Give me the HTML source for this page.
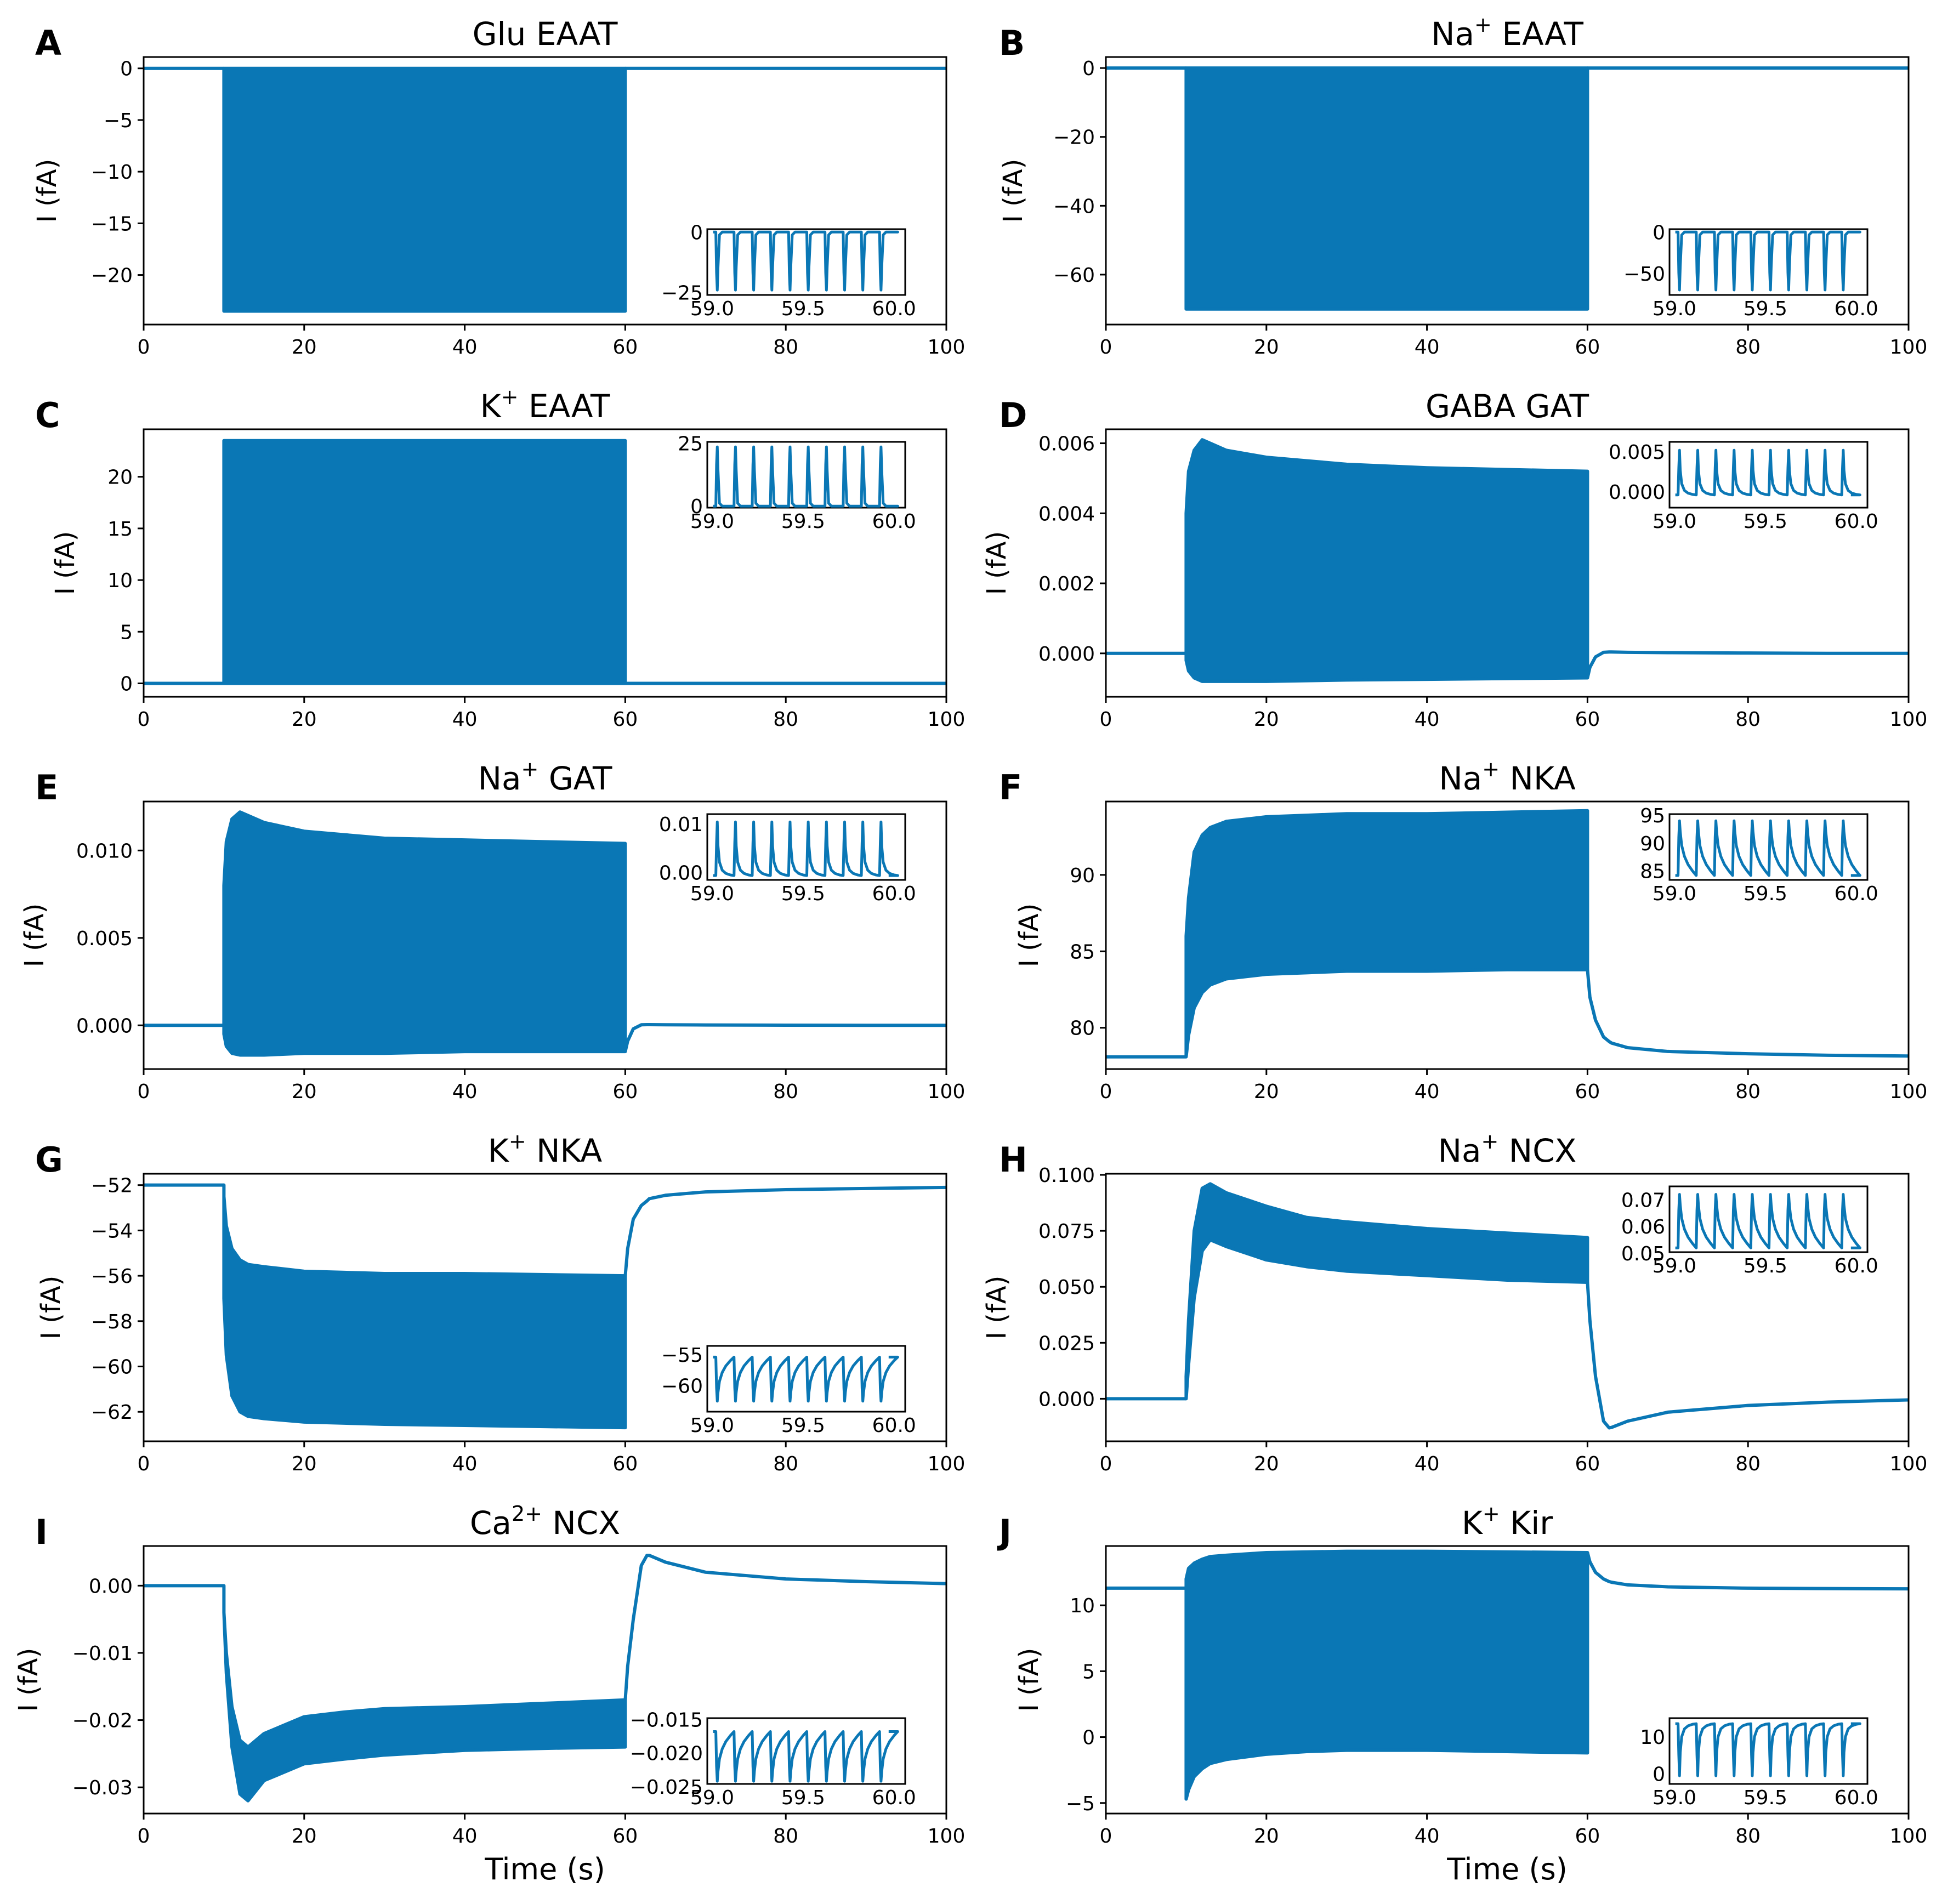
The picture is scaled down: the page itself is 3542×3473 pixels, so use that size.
<!DOCTYPE html>
<html><head><meta charset="utf-8"><style>
html,body{margin:0;padding:0;background:#fff;}
svg{display:block;font-family:"DejaVu Sans","Liberation Sans",sans-serif;}
</style></head><body>
<svg id="fig" width="3542" height="3473" viewBox="0 0 3542 3473" xmlns="http://www.w3.org/2000/svg"></svg>
<script>
// ---- data ----
const panelIds = ["A","B","C","D","E","F","G","H","I","J"];
const xTicks = [0,20,40,60,80,100];
const insetXTicks = ["59.0","59.5","60.0"];
// baseline before stimulus (t 0..10)
const preA=0, preB=0, preC=0, preD=0, preE=0, preF=78.1, preG=-52, preH=0, preI=0, preJ=11.3;
// oscillation envelope times (s)
const oscT = [10,10.3,11,12,13,15,20,25,30,40,50,60];
const hiA=[0,0,0,0,0,0,0,0,0,0,0,0];
const loA=[-23.5,-23.5,-23.5,-23.5,-23.5,-23.5,-23.5,-23.5,-23.5,-23.5,-23.5,-23.5];
const hiB=[0,0,0,0,0,0,0,0,0,0,0,0];
const loB=[-70,-70,-70,-70,-70,-70,-70,-70,-70,-70,-70,-70];
const hiC=[23.5,23.5,23.5,23.5,23.5,23.5,23.5,23.5,23.5,23.5,23.5,23.5];
const loC=[0,0,0,0,0,0,0,0,0,0,0,0];
const hiD=[0.0040,0.0052,0.0058,0.0061,0.0060,0.0058,0.0056,0.0055,0.0054,0.0053,0.00525,0.0052];
const loD=[-0.0002,-0.0005,-0.0007,-0.0008,-0.0008,-0.0008,-0.0008,-0.00078,-0.00076,-0.00074,-0.00072,-0.0007];
const hiE=[0.008,0.0105,0.0118,0.0122,0.0120,0.0116,0.0111,0.0109,0.0107,0.0106,0.0105,0.0104];
const loE=[-0.0005,-0.0012,-0.0016,-0.0017,-0.0017,-0.0017,-0.0016,-0.0016,-0.0016,-0.0015,-0.0015,-0.0015];
const hiF=[86,88.5,91.5,92.6,93.1,93.5,93.8,93.9,94.0,94.0,94.1,94.2];
const loF=[78.1,79.5,81.3,82.3,82.8,83.2,83.5,83.6,83.7,83.7,83.8,83.8];
const hiG=[-52.5,-53.8,-54.8,-55.3,-55.5,-55.6,-55.8,-55.85,-55.9,-55.9,-55.95,-56];
const loG=[-57,-59.5,-61.3,-62,-62.2,-62.3,-62.45,-62.5,-62.55,-62.6,-62.65,-62.7];
const hiH=[0.010,0.035,0.075,0.094,0.096,0.092,0.086,0.081,0.079,0.076,0.074,0.072];
const loH=[0,0.015,0.045,0.066,0.071,0.068,0.062,0.059,0.057,0.055,0.053,0.052];
const hiI=[-0.004,-0.010,-0.018,-0.023,-0.024,-0.022,-0.0195,-0.0188,-0.0183,-0.018,-0.0175,-0.017];
const loI=[-0.004,-0.013,-0.024,-0.031,-0.032,-0.029,-0.0265,-0.0258,-0.0252,-0.0245,-0.0242,-0.024];
const hiJ=[12.0,12.8,13.2,13.5,13.7,13.8,14.0,14.05,14.1,14.1,14.05,14.0];
const loJ=[-4.7,-4.0,-3.0,-2.4,-2.0,-1.7,-1.3,-1.1,-1.0,-1.0,-1.1,-1.2];
// post-stimulus relaxation
const postT=[60,60.3,61,62,62.7,63,65,70,80,90,100];
const postA=[0,0,0,0,0,0,0,0,0,0,0];
const postB=[0,0,0,0,0,0,0,0,0,0,0];
const postC=[0,0,0,0,0,0,0,0,0,0,0];
const postD=[-0.0007,-0.0004,-0.0001,0.00003,0.00004,0.00004,0.00003,0.00002,0.00001,0,0];
const postE=[-0.0015,-0.0009,-0.0002,0.00003,0.00004,0.00004,0.00003,0.00002,0.00001,0,0];
const postF=[83.8,82,80.5,79.4,79.1,79.0,78.7,78.45,78.3,78.2,78.15];
const postG=[-56,-54.8,-53.5,-52.9,-52.7,-52.6,-52.45,-52.3,-52.2,-52.15,-52.1];
const postH=[0.052,0.035,0.010,-0.010,-0.013,-0.0128,-0.010,-0.006,-0.003,-0.0015,-0.0005];
const postI=[-0.017,-0.012,-0.005,0.003,0.0045,0.0045,0.0035,0.002,0.001,0.0006,0.0003];
const postJ=[14.0,13.3,12.5,12.0,11.8,11.75,11.55,11.4,11.3,11.27,11.25];
// y-axis limits and ticks
const ylimA=[-24.8,1.1], yticksA=[0,-5,-10,-15,-20];
const ylimB=[-74.5,3.2], yticksB=[0,-20,-40,-60];
const ylimC=[-1.3,24.6], yticksC=[0,5,10,15,20];
const ylimD=[-0.00124,0.0064], yticksD=[0,0.002,0.004,0.006];
const ylimE=[-0.0025,0.0128], yticksE=[0,0.005,0.010];
const ylimF=[77.3,94.8], yticksF=[80,85,90];
const ylimG=[-63.3,-51.5], yticksG=[-52,-54,-56,-58,-60,-62];
const ylimH=[-0.019,0.1005], yticksH=[0,0.025,0.05,0.075,0.1];
const ylimI=[-0.0339,0.0059], yticksI=[0,-0.01,-0.02,-0.03];
const ylimJ=[-5.8,14.5], yticksJ=[10,5,0,-5];
const tickDec={A:0,B:0,C:0,D:3,E:3,F:0,G:0,H:3,I:2,J:0};
// insets: base level, spike level, ylim, ticks
const insBase={A:0,B:0,C:0,D:-0.0004,E:-0.0006,F:84.2,G:-55.4,H:0.052,I:-0.0168,J:13.5};
const insPeak={A:-24,B:-70,C:23.5,D:0.0052,E:0.0104,F:94,G:-62.5,H:0.072,I:-0.0242,J:-0.5};
const insLim={A:[-26,1.2],B:[-76,3.5],C:[-0.6,25.5],D:[-0.002,0.00625],E:[-0.0015,0.012],F:[83.4,95.2],G:[-64.2,-53.6],H:[0.0504,0.075],I:[-0.0246,-0.0148],J:[-2.7,15]};
const insTicksA=["0","-25"], insTicksB=["0","-50"], insTicksC=["25","0"], insTicksD=["0.005","0.000"], insTicksE=["0.01","0.00"];
const insTicksF=["95","90","85"], insTicksG=["-55","-60"], insTicksH=["0.07","0.06","0.05"], insTicksI=["-0.015","-0.020","-0.025"], insTicksJ=["10","0"];
const spikeTimes=[59.02,59.12,59.22,59.32,59.42,59.52,59.62,59.72,59.82,59.92];
const spikePhase=[0,0.004,0.008,0.012,0.02,0.035,0.055,0.08,0.1];
const pulseFrac=[0,0.7,1,0.6,0.05,0,0,0,0];
const spikeFrac=[0,0.6,1,0.55,0.25,0.1,0.04,0.01,0];
const slowFrac=[0,0.7,1,0.8,0.55,0.35,0.2,0.08,0];
// ---- layout ----
const D = {
 A:{pre:preA,hi:hiA,lo:loA,post:postA,ylim:ylimA,yt:yticksA,it:insTicksA,title:["Glu EAAT"],ins:"low",yl:160,shape:"pulse"},
 B:{pre:preB,hi:hiB,lo:loB,post:postB,ylim:ylimB,yt:yticksB,it:insTicksB,title:["Na","+"," EAAT"],ins:"low",yl:153,shape:"pulse"},
 C:{pre:preC,hi:hiC,lo:loC,post:postC,ylim:ylimC,yt:yticksC,it:insTicksC,title:["K","+"," EAAT"],ins:"high",yl:127,shape:"pulse"},
 D:{pre:preD,hi:hiD,lo:loD,post:postD,ylim:ylimD,yt:yticksD,it:insTicksD,title:["GABA GAT"],ins:"high",yl:183,shape:"spike"},
 E:{pre:preE,hi:hiE,lo:loE,post:postE,ylim:ylimE,yt:yticksE,it:insTicksE,title:["Na","+"," GAT"],ins:"high",yl:183,shape:"spike"},
 F:{pre:preF,hi:hiF,lo:loF,post:postF,ylim:ylimF,yt:yticksF,it:insTicksF,title:["Na","+"," NKA"],ins:"high",yl:124,shape:"slow"},
 G:{pre:preG,hi:hiG,lo:loG,post:postG,ylim:ylimG,yt:yticksG,it:insTicksG,title:["K","+"," NKA"],ins:"low",yl:153,shape:"slow"},
 H:{pre:preH,hi:hiH,lo:loH,post:postH,ylim:ylimH,yt:yticksH,it:insTicksH,title:["Na","+"," NCX"],ins:"high",yl:183,shape:"slow"},
 I:{pre:preI,hi:hiI,lo:loI,post:postI,ylim:ylimI,yt:yticksI,it:insTicksI,title:["Ca","2+"," NCX"],ins:"low",yl:194,shape:"slow"},
 J:{pre:preJ,hi:hiJ,lo:loJ,post:postJ,ylim:ylimJ,yt:yticksJ,it:insTicksJ,title:["K","+"," Kir"],ins:"low",yl:124,shape:"spike"}
};
const NS="http://www.w3.org/2000/svg";
const svg=document.getElementById('fig');
const C0="#0a77b5";
function mk(tag,attrs,parent){const e=document.createElementNS(NS,tag);for(const k in attrs)e.setAttribute(k,attrs[k]);(parent||svg).appendChild(e);return e;}
const AX_W=1464, AX_H=488, COLX=[262,2017], ROW0=104, PITCH=679;
function fmt(v,d){let s=v.toFixed(d);if(parseFloat(s)===0)s=(0).toFixed(d);return s.replace('-','\u2212');}
panelIds.forEach((id,i)=>{
 const p=D[id]; const col=i%2, row=Math.floor(i/2);
 const L=COLX[col], T=ROW0+row*PITCH, R=L+AX_W, B=T+AX_H;
 const g=mk('g',{});
 
 
 const X=t=>L+(t/100)*AX_W;
 const Y=v=>B-(v-p.ylim[0])/(p.ylim[1]-p.ylim[0])*AX_H;
 // letter
 const lt=mk('text',{x:col?1822:64,y:T-4,'font-size':62,'font-weight':'bold','font-family':'"DejaVu Sans",sans-serif'},g);
 lt.textContent=id;
 
 // title
 const tt=mk('text',{x:(L+R)/2,y:T-22,'font-size':58,'text-anchor':'middle'},g);
 
 p.title.forEach((s,k)=>{const ts=mk('tspan',k===1?{'font-size':38,dy:-24}:(k===2?{dy:24}:{}),tt);ts.textContent=s;});
 // data
 const dg=mk('g',{},g);
 const clip='clip'+id; const cp=mk('clipPath',{id:clip},dg); mk('rect',{x:L,y:T,width:AX_W,height:AX_H},cp);
 dg.setAttribute('clip-path','url(#'+clip+')');
 const pre=mk('path',{d:`M${X(0)},${Y(p.pre)}L${X(10)},${Y(p.pre)}`,stroke:C0,'stroke-width':6,fill:'none'},dg);
 
 let d='M'+X(10)+','+Y(p.pre);
 oscT.forEach((t,k)=>{d+='L'+X(t)+','+Y(p.hi[k]);});
 for(let k=oscT.length-1;k>=0;k--)d+='L'+X(oscT[k])+','+Y(p.lo[k]);
 d+='Z';
 const band=mk('path',{d:d,fill:C0,stroke:C0,'stroke-width':6,'stroke-linejoin':'round'},dg);
 
 let pd='';postT.forEach((t,k)=>{pd+=(k?'L':'M')+X(t)+','+Y(p.post[k]);});
 const post=mk('path',{d:pd,stroke:C0,'stroke-width':6,fill:'none','stroke-linejoin':'round'},dg);
 
 // frame
 const fr=mk('rect',{x:L,y:T,width:AX_W,height:AX_H,fill:'none',stroke:'#000','stroke-width':3},g);
 
 // x ticks
 xTicks.forEach(v=>{
  mk('line',{x1:X(v),x2:X(v),y1:B,y2:B+11,stroke:'#000','stroke-width':3},g);
  const tx=mk('text',{x:X(v),y:B+53,'font-size':36,'text-anchor':'middle'},g);
  tx.textContent=v;
 });
 p.yt.forEach(v=>{
  mk('line',{x1:L-11,x2:L,y1:Y(v),y2:Y(v),stroke:'#000','stroke-width':3},g);
  const ty=mk('text',{x:L-20,y:Y(v)+13,'font-size':36,'text-anchor':'end'},g);
  ty.textContent=fmt(v,tickDec[id]);
 });
 const yl=mk('text',{transform:`translate(${L-p.yl},${(T+B)/2}) rotate(-90)`,'font-size':48,'text-anchor':'middle'},g);
 yl.textContent='I (fA)';
 if(row===4){const xl=mk('text',{x:(L+R)/2,y:3428,'font-size':54,'text-anchor':'middle'},g);
  xl.textContent='Time (s)';}
 // inset
 const iL=L+1028, iW=361, iH=120, iT=p.ins==='low'?T+314:T+23, iB=iT+iH;
 const ig=mk('g',{},g);
 
 const il=insLim[id];
 const IX=t=>iL+(t-58.973)/(60.061-58.973)*iW;
 const IY=v=>iB-(v-il[0])/(il[1]-il[0])*iH;
 mk('rect',{x:iL,y:iT,width:iW,height:iH,fill:'#fff',stroke:'#000','stroke-width':3},ig);
 const prof=p.shape==='slow'?slowFrac:(p.shape==='pulse'?pulseFrac:spikeFrac);
 let sd='M'+IX(59.005)+','+IY(insBase[id]);
 spikeTimes.forEach(st=>{spikePhase.forEach((ph,k)=>{const v=insBase[id]+(insPeak[id]-insBase[id])*prof[k];sd+='L'+IX(st+ph)+','+IY(v);});});
 sd+='L'+IX(59.97)+','+IY(insBase[id]);
 const sp=mk('path',{d:sd,stroke:C0,'stroke-width':5,fill:'none','stroke-linejoin':'round'},ig);
 
 insetXTicks.forEach(s=>{const tx=mk('text',{x:IX(parseFloat(s)),y:iB+37,'font-size':36,'text-anchor':'middle'},ig);tx.textContent=s;
  });
 p.it.forEach(s=>{const v=parseFloat(s);const ty=mk('text',{x:iL-8,y:IY(v)+13,'font-size':36,'text-anchor':'end'},ig);ty.textContent=s.replace('-','\u2212');
  });
});
</script>
</body></html>
